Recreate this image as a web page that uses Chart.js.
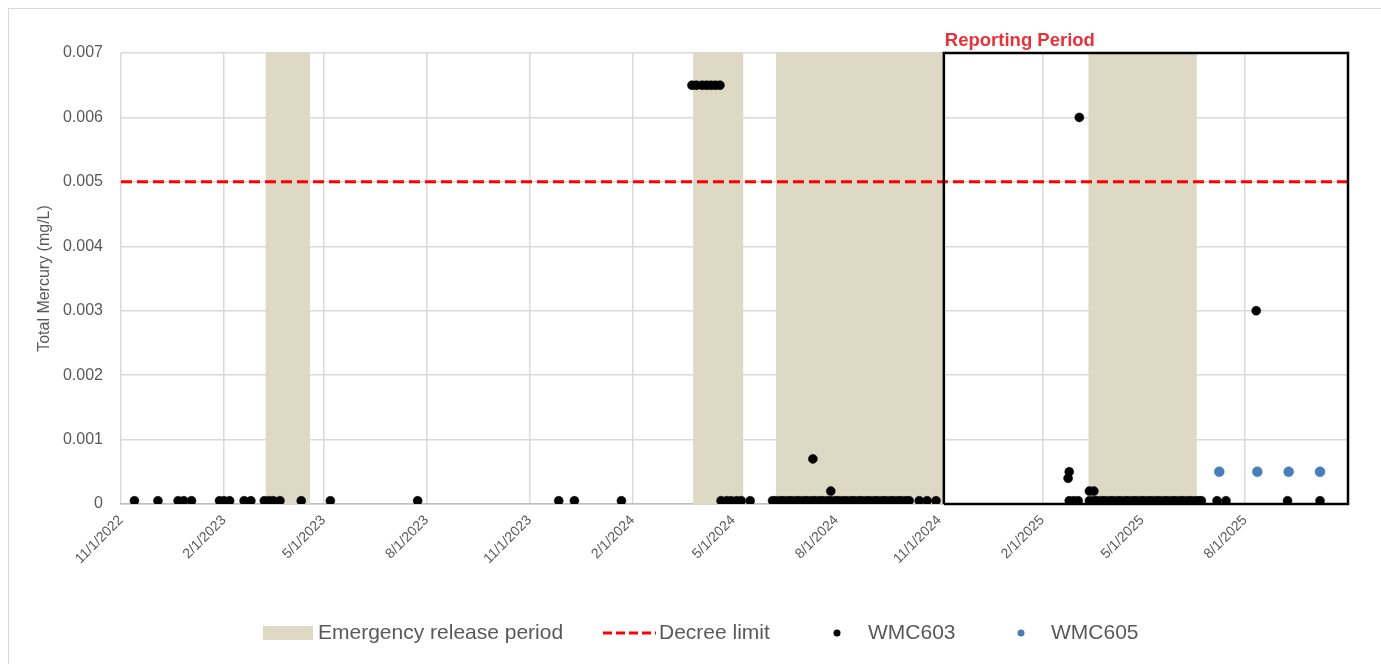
<!DOCTYPE html>
<html>
<head>
<meta charset="utf-8">
<title>Total Mercury</title>
<script src="https://cdn.jsdelivr.net/npm/chart.js@4.4.0/dist/chart.umd.min.js"></script>
<style>
  html, body { margin: 0; padding: 0; background: #fff; }
  #wrap { position: relative; width: 1381px; height: 664px; overflow: hidden; }
  #frame { position: absolute; left: 8px; top: 8px; width: 1400px; height: 700px; border: 1px solid #d9d9d9; pointer-events: none; }
</style>
</head>
<body>
<div id="wrap">
  <canvas id="chart" width="1381" height="664"></canvas>
  <div id="frame"></div>
</div>
<script>
// ---------------- DATA ----------------
const axisStart = "2022-11-01";
const axisEnd = "2025-11-01";
const tickDates = [
    "2022-11-01", "2023-02-01", "2023-05-01", "2023-08-01",
    "2023-11-01", "2024-02-01", "2024-05-01", "2024-08-01",
    "2024-11-01", "2025-02-01", "2025-05-01", "2025-08-01"
];
const yMax = 0.007;

const emergencyStarts = ["2023-03-10", "2024-03-26", "2024-06-08", "2025-03-14"];
const emergencyEnds   = ["2023-04-19", "2024-05-10", "2024-11-05", "2025-06-19"];

const decreeLimit = 0.005;
const reportStart = "2024-11-05";
const reportEnd = "2025-11-01";

const ND = 0.00005; // non-detect plotted just above zero

const wmc603Dates = [
    "2022-11-13", "2022-12-04", "2022-12-22", "2022-12-27", "2023-01-03", "2023-01-28", "2023-02-01", "2023-02-06", "2023-02-19", "2023-02-25",
    "2023-03-09", "2023-03-13", "2023-03-17", "2023-03-23", "2023-04-11", "2023-05-07", "2023-07-24", "2023-11-27", "2023-12-11", "2024-01-22",
    "2024-03-25", "2024-03-29", "2024-04-03", "2024-04-07", "2024-04-11", "2024-04-15", "2024-04-19",
    "2024-04-20", "2024-04-25", "2024-04-29", "2024-05-04", "2024-05-08", "2024-05-16",
    "2024-06-05", "2024-06-08", "2024-06-12", "2024-06-15", "2024-06-19", "2024-06-22", "2024-06-26", "2024-06-29", "2024-07-03", "2024-07-06",
    "2024-07-10", "2024-07-11", "2024-07-13", "2024-07-17", "2024-07-20", "2024-07-24", "2024-07-27", "2024-07-27", "2024-07-31", "2024-08-03",
    "2024-08-07", "2024-08-10", "2024-08-14", "2024-08-17", "2024-08-21", "2024-08-24", "2024-08-28", "2024-08-31", "2024-09-04", "2024-09-07",
    "2024-09-11", "2024-09-14", "2024-09-18", "2024-09-21", "2024-09-25", "2024-09-28", "2024-10-02", "2024-10-05", "2024-10-14", "2024-10-21", "2024-10-29",
    "2025-02-24", "2025-02-25", "2025-02-25", "2025-03-01", "2025-03-05", "2025-03-06", "2025-03-15", "2025-03-19",
    "2025-03-15", "2025-03-19", "2025-03-22", "2025-03-26", "2025-03-29", "2025-04-02", "2025-04-05", "2025-04-09", "2025-04-12", "2025-04-16",
    "2025-04-19", "2025-04-23", "2025-04-26", "2025-04-30", "2025-05-03", "2025-05-07", "2025-05-10", "2025-05-14", "2025-05-17", "2025-05-21",
    "2025-05-24", "2025-05-28", "2025-05-31", "2025-06-04", "2025-06-07", "2025-06-11", "2025-06-14", "2025-06-18", "2025-06-21", "2025-06-23",
    "2025-07-07", "2025-07-15", "2025-08-11", "2025-09-08", "2025-10-07"
];
const wmc603Values = [
    ND, ND, ND, ND, ND, ND, ND, ND, ND, ND,
    ND, ND, ND, ND, ND, ND, ND, ND, ND, ND,
    0.0065, 0.0065, 0.0065, 0.0065, 0.0065, 0.0065, 0.0065,
    ND, ND, ND, ND, ND, ND,
    ND, ND, ND, ND, ND, ND, ND, ND, ND, ND,
    ND, 0.0007, ND, ND, ND, ND, ND, 0.0002, ND, ND,
    ND, ND, ND, ND, ND, ND, ND, ND, ND, ND,
    ND, ND, ND, ND, ND, ND, ND, ND, ND, ND, ND,
    0.0004, 0.0005, ND, ND, ND, 0.006, 0.0002, 0.0002,
    ND, ND, ND, ND, ND, ND, ND, ND, ND, ND,
    ND, ND, ND, ND, ND, ND, ND, ND, ND, ND,
    ND, ND, ND, ND, ND, ND, ND, ND, ND, ND,
    ND, ND, 0.003, ND, ND
];

const wmc605Dates = ["2025-07-09", "2025-08-12", "2025-09-09", "2025-10-07"];
const wmc605Values = [0.0005, 0.0005, 0.0005, 0.0005];

// ---------------- HELPERS ----------------
const toDay = s => Date.UTC(+s.slice(0, 4), +s.slice(5, 7) - 1, +s.slice(8, 10)) / 86400000;

function dayLabel(v) {
    const d = new Date(v * 86400000);
    return `${d.getUTCMonth() + 1}/${d.getUTCDate()}/${d.getUTCFullYear()}`;
}

const shadeColor = "#ddd9c4";
const redColor = "#ff0000";
const blueColor = "#4a7ebb";
const textColor = "#595959";
const baseFont = "'Liberation Sans', Arial, sans-serif";

// one filled line per emergency release period
const shadeSets = emergencyStarts.map((s, i) => ({
    type: "line",
    label: "Emergency release period",
    data: [{ x: toDay(s), y: yMax }, { x: toDay(emergencyEnds[i]), y: yMax }],
    borderWidth: 0,
    borderColor: shadeColor,
    backgroundColor: shadeColor,
    pointRadius: 0,
    fill: "origin",
    order: 4
}));

const rs = toDay(reportStart), re = toDay(reportEnd);

// ---------------- PLUGINS ----------------
const reportLabel = {
    id: "reportLabel",
    afterDatasetsDraw(chart) {
        const ctx = chart.ctx;
        const x = chart.scales.x.getPixelForValue(rs);
        ctx.save();
        ctx.font = "bold 18.5px " + baseFont;
        ctx.fillStyle = "#e8323a";
        ctx.textAlign = "left";
        ctx.textBaseline = "alphabetic";
        ctx.fillText("Reporting Period", x + 1, chart.chartArea.top - 7);
        ctx.restore();
    }
};

const bottomLegend = {
    id: "bottomLegend",
    afterDraw(chart) {
        const ctx = chart.ctx;
        const cy = 633;
        ctx.save();
        ctx.font = "21px " + baseFont;
        ctx.textBaseline = "middle";
        ctx.textAlign = "left";

        ctx.fillStyle = shadeColor;
        ctx.fillRect(263, 626, 50, 14);
        ctx.fillStyle = textColor;
        ctx.fillText("Emergency release period", 318, cy);

        ctx.strokeStyle = redColor;
        ctx.lineWidth = 3;
        ctx.setLineDash([9, 4]);
        ctx.beginPath();
        ctx.moveTo(603, cy);
        ctx.lineTo(656, cy);
        ctx.stroke();
        ctx.setLineDash([]);
        ctx.fillText("Decree limit", 659, cy);

        ctx.fillStyle = "#000";
        ctx.beginPath();
        ctx.arc(837, cy, 3.5, 0, Math.PI * 2);
        ctx.fill();
        ctx.fillStyle = textColor;
        ctx.fillText("WMC603", 868, cy);

        ctx.fillStyle = blueColor;
        ctx.beginPath();
        ctx.arc(1021, cy, 3.5, 0, Math.PI * 2);
        ctx.fill();
        ctx.fillStyle = textColor;
        ctx.fillText("WMC605", 1051, cy);
        ctx.restore();
    }
};

// ---------------- CHART ----------------
new Chart(document.getElementById("chart"), {
    type: "scatter",
    data: {
        datasets: [
            ...shadeSets,
            {
                type: "line",
                label: "Decree limit",
                data: [{ x: toDay(axisStart), y: decreeLimit }, { x: toDay(axisEnd), y: decreeLimit }],
                borderColor: redColor,
                borderWidth: 3,
                borderDash: [11, 5],
                pointRadius: 0,
                fill: false,
                order: 3
            },
            {
                type: "line",
                label: "Reporting Period",
                data: [{ x: rs, y: 0 }, { x: rs, y: yMax }, { x: re, y: yMax }, { x: re, y: 0 }, { x: rs, y: 0 }],
                borderColor: "#000",
                borderWidth: 2.5,
                pointRadius: 0,
                fill: false,
                clip: false,
                order: 2
            },
            {
                label: "WMC603",
                data: wmc603Dates.map((d, i) => ({ x: toDay(d), y: wmc603Values[i] })),
                backgroundColor: "#000",
                borderColor: "#000",
                borderWidth: 0.5,
                pointRadius: 4.5,
                order: 1
            },
            {
                label: "WMC605",
                data: wmc605Dates.map((d, i) => ({ x: toDay(d), y: wmc605Values[i] })),
                backgroundColor: blueColor,
                borderColor: blueColor,
                borderWidth: 0.5,
                pointRadius: 5,
                order: 0
            }
        ]
    },
    options: {
        responsive: false,
        animation: false,
        events: [],
        layout: { padding: { top: 53, right: 33, left: 0, bottom: 0 } },
        plugins: {
            legend: { display: false },
            tooltip: { enabled: false }
        },
        scales: {
            x: {
                type: "linear",
                min: toDay(axisStart),
                max: toDay(axisEnd),
                afterBuildTicks: scale => {
                    scale.ticks = tickDates.map(s => ({ value: toDay(s) }));
                },
                afterFit: scale => { scale.height = 160; },
                grid: { color: "#d9d9d9", lineWidth: 1.5, drawTicks: false },
                border: { color: "#bfbfbf", width: 1.5 },
                ticks: {
                    autoSkip: false,
                    maxRotation: 45,
                    minRotation: 45,
                    padding: 8,
                    color: textColor,
                    font: { family: baseFont, size: 14 },
                    callback: v => dayLabel(v)
                }
            },
            y: {
                min: 0,
                max: yMax,
                afterFit: scale => { scale.width = 121; },
                grid: { color: "#d9d9d9", lineWidth: 1.5, drawTicks: false },
                border: { display: false },
                ticks: {
                    stepSize: 0.001,
                    padding: 18,
                    color: textColor,
                    font: { family: baseFont, size: 16 },
                    callback: v => v === 0 ? "0" : v.toFixed(3)
                },
                title: {
                    display: true,
                    text: "Total Mercury (mg/L)",
                    color: textColor,
                    font: { family: baseFont, size: 16 },
                    padding: { top: 35, bottom: 0 }
                }
            }
        }
    },
    plugins: [reportLabel, bottomLegend]
});
</script>
</body>
</html>
